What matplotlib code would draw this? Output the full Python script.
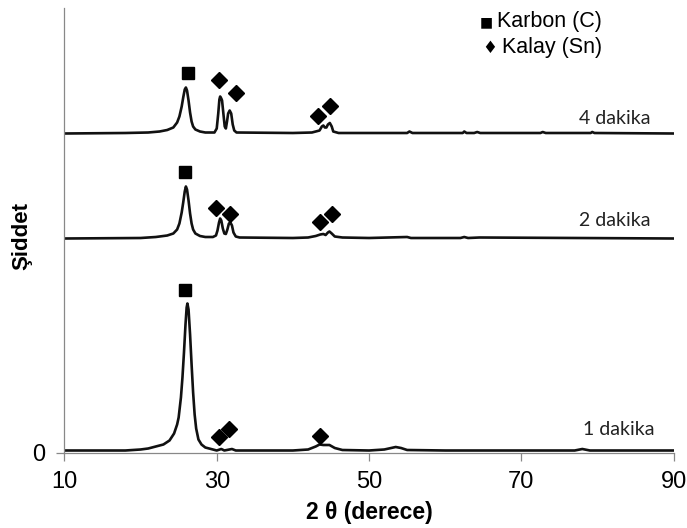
import matplotlib
matplotlib.use("Agg")
import matplotlib.pyplot as plt

# ---------------- data ----------------
# 1 dakika (absolute intensity, a.u.)
x_1dk = [10, 14, 18, 20, 21, 22, 23, 23.8, 24.4, 24.8, 25.0, 25.3, 25.5, 25.7, 25.9,
         26.05, 26.15, 26.3, 26.5, 26.7, 26.9, 27.1, 27.3, 27.6, 28.0, 28.5, 29, 30,
         30.6, 31, 32, 32.5, 35, 40, 42, 43, 43.5, 44, 44.8, 45.5, 46.5, 50, 52, 53.5,
         54.2, 55, 60, 70, 77, 78, 79, 90]
y_1dk = [2, 2, 2, 3, 4, 6, 8, 12, 19, 28, 35, 55, 75, 100, 128,
         145, 149, 143, 118, 88, 60, 38, 24, 13, 8, 5, 4, 2,
         3.5, 2, 3.5, 2, 2, 2, 3, 6, 8, 7.5, 7.5, 4.5, 2.5, 2, 3, 5.5,
         4.5, 2.5, 2, 2, 2, 3.5, 2, 2]

# 2 dakika (relative to its own baseline)
x_2dk = [10, 20, 22, 23.5, 24.3, 24.8, 25.1, 25.4, 25.6, 25.8, 25.95, 26.1, 26.3, 26.5,
         26.7, 26.9, 27.2, 27.8, 28.5, 29.5, 29.9, 30.1, 30.3, 30.45, 30.6, 30.8, 31.0,
         31.2, 31.4, 31.6, 31.8, 32.0, 32.2, 32.5, 33, 40, 42, 43, 43.6, 44.0, 44.3,
         44.6, 44.8, 45.1, 45.5, 46.5, 50, 55, 55.5, 62, 62.5, 63, 64.5, 90]
y_2dk = [0, 0.5, 1.5, 3, 5, 9, 15, 26, 36, 47, 52, 49, 38, 25,
         15, 9, 5, 2.5, 1.5, 1.5, 3, 8, 16, 20, 18, 10, 5,
         4.5, 9, 15, 16, 13, 6, 2, 1, 0.5, 1, 2.5, 4, 4.5, 3.5,
         6, 7, 5, 2, 1, 0.5, 1.5, 0.5, 0.5, 1.5, 0.5, 1, 0]

# 4 dakika (relative to its own baseline)
x_4dk = [10, 18, 21, 22.5, 23.5, 24.3, 24.8, 25.1, 25.4, 25.6, 25.8, 25.95, 26.1, 26.3,
         26.5, 26.7, 26.9, 27.2, 27.8, 28.5, 29.7, 30.0, 30.2, 30.35, 30.45, 30.6, 30.7,
         30.9, 31.05, 31.2, 31.35, 31.5, 31.7, 31.9, 32.1, 32.3, 32.6, 40, 42.5, 43.5,
         43.8, 44.0, 44.2, 44.4, 44.6, 44.85, 45.1, 45.3, 46, 55, 55.3, 55.7, 62.3, 62.5,
         62.8, 63.8, 64.2, 64.6, 72.5, 72.8, 73.2, 79.1, 79.3, 79.6, 90]
y_4dk = [0, 0.5, 1, 2, 3.5, 6, 11, 17, 27, 36, 44, 46, 43, 33,
         21, 12, 7, 4, 2, 1, 1, 5, 20, 34, 37, 35, 33,
         18, 7, 5, 12, 20, 23, 20, 9, 3, 1, 0.5, 1, 3,
         7, 8, 6, 6, 9, 10.5, 7, 2, 0.5, 0.5, 2, 0.5, 0.5, 2,
         0.5, 0.5, 1.5, 0.5, 0.5, 1.5, 0.5, 0.5, 1.5, 0.5, 0]

series_labels = ["1 dakika", "2 dakika", "4 dakika"]
offsets = [0, 214, 319]

# phase markers (2θ, intensity)
karbon_x = [25.8, 25.9, 26.2]
karbon_y = [163, 281, 380]
kalay_x = [30.3, 31.6, 43.55, 29.9, 31.7, 43.6, 45.15, 30.3, 32.5, 43.3, 44.9]
kalay_y = [16, 24, 17, 245, 239, 231, 239, 373, 360, 337, 347]

label_x = [82.8, 82.3, 82.3]
label_y = [23, 232, 334]

xticks = [10, 30, 50, 70, 90]

# ---------------- plot ----------------
W, H = 687, 528
fig = plt.figure(figsize=(W / 100, H / 100), dpi=100)
ax = fig.add_axes([64.4 / W, 1 - 452.5 / H, (673.7 - 64.4) / W, (452.5 - 8) / H])

base_font = "Liberation Sans"
line_kw = dict(color="#111111", lw=1.9, solid_joinstyle="round")
for xs, ys, off in zip([x_1dk, x_2dk, x_4dk], [y_1dk, y_2dk, y_4dk], offsets):
    ax.plot(xs, [v + off for v in ys], **line_kw)

ax.plot(karbon_x, karbon_y, ls="none", marker="s", ms=9, color="black")
ax.plot(kalay_x, kalay_y, ls="none", marker="D", ms=8.5, color="black")

for lab, lx, ly in zip(series_labels, label_x, label_y):
    ax.text(lx, ly, lab, ha="center", va="center", fontsize=14, family="Lato",
            color="#222222")

ax.set_xlim(10, 90)
ax.set_ylim(0, 444.5)
ax.set_xticks(xticks)
ax.set_yticks([0])
for lab in ax.get_xticklabels() + ax.get_yticklabels():
    lab.set_family(base_font)
    lab.set_fontsize(17)
ax.tick_params(axis="both", direction="out", length=6, width=0.9, color="#888888")
ax.tick_params(axis="x", pad=7)
ax.tick_params(axis="y", pad=8)

for s in ["top", "right"]:
    ax.spines[s].set_visible(False)
for s in ["left", "bottom"]:
    ax.spines[s].set_color("#888888")
    ax.spines[s].set_linewidth(0.9)

ax.set_xlabel("2 θ (derece)", fontsize=16.5, fontweight="bold", family=base_font,
              va="center")
ax.xaxis.set_label_coords((369 - 64.4) / (673.7 - 64.4), -(513 - 452.5) / (452.5 - 8))
ax.set_ylabel("Şiddet", fontsize=16, fontweight="bold", family=base_font,
              va="center")
ax.yaxis.set_label_coords(-(64.4 - 22) / (673.7 - 64.4), (452.5 - 236) / (452.5 - 8))

# legend (text style, as in original)
fig.text(486 / W, 1 - 22 / H, "■", fontsize=10, ha="center", va="center",
         family=["DejaVu Sans"])
fig.text(497 / W, 1 - 21 / H, "Karbon (C)", fontsize=15.5, ha="left", va="center",
         family=base_font)
fig.text(490 / W, 1 - 48 / H, "♦", fontsize=12, ha="center", va="center",
         family=["DejaVu Sans"])
fig.text(502 / W, 1 - 48 / H, "Kalay (Sn)", fontsize=15.5, ha="left", va="center",
         family=base_font)

fig.savefig("out.png", dpi=100)
